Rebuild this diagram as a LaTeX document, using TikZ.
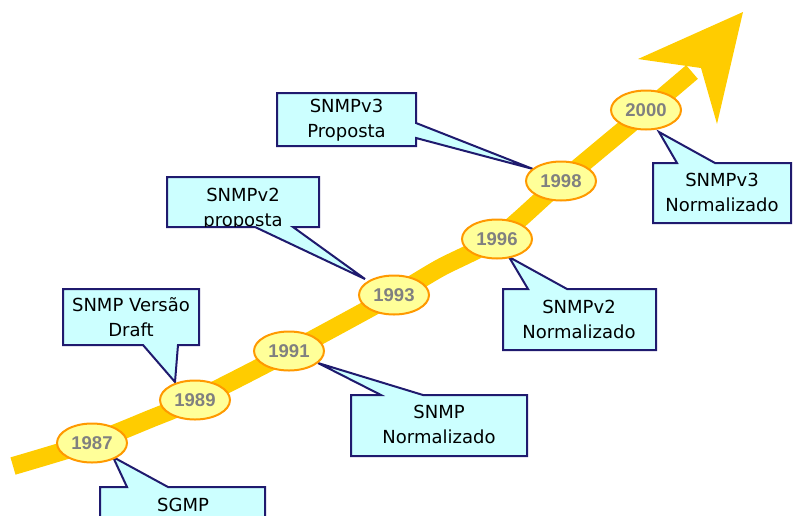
\documentclass[tikz,border=0pt]{standalone}
\usepackage{fontspec}
\setmainfont{DejaVu Sans}
\newfontfamily\yearfont{Liberation Sans}
\usetikzlibrary{shapes.geometric}
\definecolor{band}{HTML}{FFCC00}
\definecolor{ovalfill}{HTML}{FFFF99}
\definecolor{ovalline}{HTML}{FF9900}
\definecolor{notefill}{HTML}{CCFFFF}
\definecolor{noteline}{HTML}{1F1A6E}
\definecolor{yeargray}{HTML}{808080}
\tikzset{
  year/.style={ellipse, draw=ovalline, fill=ovalfill, line width=2pt,
    minimum width=70pt, minimum height=39pt, inner sep=0pt,
    font=\yearfont\bfseries\fontsize{18.5}{20}\selectfont, text=yeargray},
  note/.style={fill=notefill, draw=noteline, line width=2pt, line join=miter},
  notetext/.style={align=center, font=\fontsize{18}{25}\selectfont, inner sep=0pt},
}
\begin{document}
\begin{tikzpicture}[x=1pt, y=-1pt]
  \clip (0,0) rectangle (793,515);

  % timeline band and arrow head
  \draw[band, line width=18pt] plot[smooth, tension=0.5] coordinates
    {(13,466) (92,442) (150,419) (195,400) (289,352) (394,295) (440,268)
     (497,238) (561,182) (646,111) (692,72)};
  \fill[band] (638,59) -- (743,12) -- (717,124) -- (701,68) -- cycle;

  % callouts
  % 1987
  \draw[note] (100,487) -- (127,487) -- (113,457) -- (168,487) -- (265,487)
    -- (265,530) -- (100,530) -- cycle;
  \node[notetext] (tSGMP) at (183,505) {SGMP};
  % 1989
  \draw[note] (63,289) -- (199,289) -- (199,345) -- (178,345) -- (175,382)
    -- (143,345) -- (63,345) -- cycle;
  \node[notetext] (tDraft) at (131,317.5) {SNMP Versão\\Draft};
  % 1991
  \draw[note] (351,395) -- (381,395) -- (318,363) -- (423,395) -- (527,395)
    -- (527,456) -- (351,456) -- cycle;
  \node[notetext] (tSNMPn) at (439,424) {SNMP\\Normalizado};
  % 1993
  \draw[note] (167,177) -- (319,177) -- (319,227) -- (293,227) -- (365,279)
    -- (255,227) -- (167,227) -- cycle;
  \begin{scope}
    \clip (168,178) rectangle (318,226);
    \node[notetext] (tV2p) at (243,209) {SNMPv2\\proposta};
  \end{scope}
  % 1996
  \draw[note] (503,289) -- (528,289) -- (509,257) -- (567,289) -- (656,289)
    -- (656,350) -- (503,350) -- cycle;
  \node[notetext] (tV2n) at (579,319) {SNMPv2\\Normalizado};
  % 1998
  \draw[note] (277,93) -- (416,93) -- (416,123) -- (533,169) -- (416,138)
    -- (416,146) -- (277,146) -- cycle;
  \node[notetext] (tV3p) at (346.5,120) {SNMPv3\\Proposta};
  % 2000
  \draw[note] (653,163) -- (677,163) -- (659,132) -- (715,163) -- (791,163)
    -- (791,223) -- (653,223) -- cycle;
  \node[notetext] (tV3n) at (722,192.5) {SNMPv3\\Normalizado};

  % year markers
  \node[year] (y1987) at (92,443) {1987};
  \node[year] (y1989) at (195,400) {1989};
  \node[year] (y1991) at (289,351) {1991};
  \node[year] (y1993) at (394,295) {1993};
  \node[year] (y1996) at (497,239) {1996};
  \node[year] (y1998) at (561,181) {1998};
  \node[year] (y2000) at (646,110) {2000};
\end{tikzpicture}
\end{document}
